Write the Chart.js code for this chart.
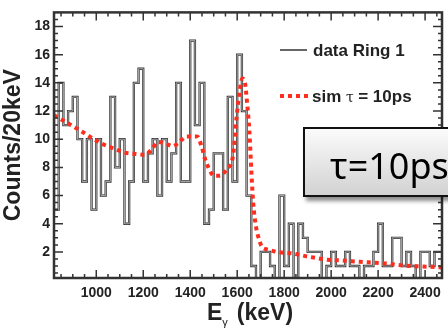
<!DOCTYPE html>
<html>
<head>
<meta charset="utf-8">
<script src="https://cdn.jsdelivr.net/npm/chart.js@4.4.0/dist/chart.umd.min.js"></script>
<style>
  html, body { margin: 0; padding: 0; background: #fff; overflow: hidden; }
  #wrap { position: relative; width: 448px; height: 329px; overflow: hidden; }
  #xtitle {
    position: absolute; left: 207px; top: 301px;
    font: bold 23px "Liberation Sans", Arial, sans-serif; line-height: 23px; color: #222;
    white-space: nowrap;
  }
  #xtitle sub { font-size: 11px; vertical-align: -6px; margin-right: 9px; font-weight: normal; }
  #taubox {
    position: absolute; left: 303px; top: 127px; width: 170px; height: 47px;
    border: 2px solid #111; padding: 19px 0 0 25px;
    background: linear-gradient(to bottom, #fbfbfb, #d2d2d2);
    box-shadow: 3px 4px 4px rgba(0,0,0,0.45);
    font: 36px "Noto Sans", sans-serif; line-height: 36px; color: #000; white-space: nowrap;
  }
</style>
</head>
<body>
<div id="wrap">
  <canvas id="miGrafico" width="448" height="329"></canvas>
  <div id="xtitle">E<sub>γ</sub>(keV)</div>
  <div id="taubox">τ=10ps</div>
</div>
<script>
// histogram bins (lower edge, keV) and counts per 20 keV
const energias = [
  820, 840, 860, 880, 900, 920, 940, 960, 980, 1000,
  1020, 1040, 1060, 1080, 1100, 1120, 1140, 1160, 1180, 1200,
  1220, 1240, 1260, 1280, 1300, 1320, 1340, 1360, 1380, 1400,
  1420, 1440, 1460, 1480, 1500, 1520, 1540, 1560, 1580, 1600,
  1620, 1640, 1660, 1680, 1700, 1720, 1740, 1760, 1780, 1800,
  1820, 1840, 1860, 1880, 1900, 1920, 1940, 1960, 1980, 2000,
  2020, 2040, 2060, 2080, 2100, 2120, 2140, 2160, 2180, 2200,
  2220, 2240, 2260, 2280, 2300, 2320, 2340, 2360, 2380, 2400,
  2420, 2440, 2460
];
const cuentas = [
  14, 5, 14, 11, 12, 13, 10, 7, 10, 5,
  10, 6, 7, 13, 8, 10, 4, 7, 14, 15,
  7, 9, 10, 6, 10, 7, 9, 14, 7, 7,
  17, 11, 14, 4, 5, 9, 9, 5, 13, 7,
  16, 12, 6, 1, 0, 2, 2, 1, 0, 6,
  1, 4, 0, 4, 3, 2, 2, 2, 0, 1,
  2, 1, 1, 2, 1, 1, 0, 1, 1, 2,
  4, 1, 1, 3, 3, 1, 2, 1, 0, 2,
  2, 1, 2
];
const anchoBin = 20;

// simulation tau = 10ps
const simE = [820, 888, 952, 1016, 1080, 1122, 1170, 1207, 1237, 1263, 1301, 1326, 1356, 1386, 1429, 1450,
  1463, 1480, 1501, 1526, 1556, 1582, 1597, 1611, 1622, 1633, 1642, 1652, 1660, 1668, 1680, 1693,
  1704, 1725, 1746, 1768, 1833, 1901, 1943, 1986, 2037, 2122, 2220, 2322, 2390, 2470];
const simCuentas = [11.7, 11.05, 10.4, 9.74, 9.3, 9.05, 8.95, 8.9, 9.3, 9.8, 9.65, 9.5, 9.85, 10.2, 10.2, 9.4,
  8.6, 7.9, 7.4, 7.4, 7.9, 8.8, 11.5, 13.5, 14.3, 14.0, 12.6, 10.5, 7.8, 5.5, 3.8, 2.9,
  2.4, 2.19, 2.1, 2.0, 1.9, 1.67, 1.55, 1.44, 1.4, 1.3, 1.2, 1.02, 0.97, 0.9];

const xTicks = [1000, 1200, 1400, 1600, 1800, 2000, 2200, 2400];
const yTicks = [2, 4, 6, 8, 10, 12, 14, 16, 18];
const etiquetas = ['data Ring 1', 'sim', 'τ', '= 10ps'];

const puntosHist = energias.map((e, i) => ({x: e, y: cuentas[i]}));
puntosHist.push({x: energias[energias.length - 1] + anchoBin, y: cuentas[cuentas.length - 1]});
const puntosSim = simE.map((e, i) => ({x: e, y: simCuentas[i]}));

const fuente = '"Liberation Sans", Arial, sans-serif';

// frame with inward ticks on all sides + legend inside the plot
const marco = {
  id: 'marco',
  afterDatasetsDraw(chart) {
    const {ctx, chartArea: a, scales: {x, y}} = chart;
    ctx.save();
    ctx.strokeStyle = '#333';
    ctx.lineWidth = 1.5;
    ctx.beginPath();
    for (let v = 850; v < x.max; v += 50) {
      const px = x.getPixelForValue(v);
      const l = xTicks.includes(v) ? 8 : 4;
      ctx.moveTo(px, a.bottom); ctx.lineTo(px, a.bottom - l);
      ctx.moveTo(px, a.top); ctx.lineTo(px, a.top + l);
    }
    for (let v = 0.5; v < y.max; v += 0.5) {
      const py = y.getPixelForValue(v);
      const l = yTicks.includes(v) ? 9 : 4;
      ctx.moveTo(a.left, py); ctx.lineTo(a.left + l, py);
      ctx.moveTo(a.right, py); ctx.lineTo(a.right - l, py);
    }
    ctx.stroke();
    ctx.lineWidth = 2.5;
    ctx.strokeRect(a.left, a.top, a.width, a.height);

    // legend
    const ds = chart.data.datasets;
    ctx.lineWidth = 1.5;
    ctx.strokeStyle = '#333';
    ctx.beginPath(); ctx.moveTo(280, 50); ctx.lineTo(307, 50); ctx.stroke();
    ctx.lineWidth = ds[0].borderWidth;
    ctx.strokeStyle = ds[0].borderColor;
    ctx.setLineDash(ds[0].borderDash);
    ctx.beginPath(); ctx.moveTo(280, 96); ctx.lineTo(308, 96); ctx.stroke();
    ctx.setLineDash([]);
    ctx.fillStyle = '#222';
    ctx.textBaseline = 'alphabetic';
    ctx.font = 'bold 17px ' + fuente;
    ctx.fillText(etiquetas[0], 313, 56);
    ctx.fillText(etiquetas[1], 312, 102);
    let xx = 312 + ctx.measureText(etiquetas[1] + ' ').width;
    ctx.font = '14px "DejaVu Serif", serif';
    ctx.fillText(etiquetas[2], xx, 102);
    xx += ctx.measureText(etiquetas[2] + ' ').width;
    ctx.font = 'bold 17px ' + fuente;
    ctx.fillText(etiquetas[3], xx, 102);
    ctx.restore();
  }
};

const ctx = document.getElementById('miGrafico').getContext('2d');
const miGrafico = new Chart(ctx, {
  type: 'line',
  data: {
    datasets: [
      {
        label: 'sim τ = 10ps',
        data: puntosSim,
        borderColor: 'rgb(255, 45, 30)',
        borderWidth: 4,
        borderDash: [4, 4],
        pointRadius: 0,
        cubicInterpolationMode: 'monotone',
        order: 0
      },
      {
        label: 'data Ring 1',
        data: puntosHist,
        stepped: 'after',
        borderColor: '#c8c8c8',
        borderWidth: 0.8,
        pointRadius: 0,
        order: 1
      },
      {
        label: 'data Ring 1 (borde)',
        data: puntosHist,
        stepped: 'after',
        borderColor: '#333',
        borderWidth: 2.3,
        pointRadius: 0,
        order: 2
      }
    ]
  },
  options: {
    responsive: false,
    animation: false,
    devicePixelRatio: 1,
    layout: { padding: { top: 10, right: 6, left: 0, bottom: 0 } },
    plugins: {
      legend: { display: false },
      tooltip: { enabled: false }
    },
    scales: {
      x: {
        type: 'linear',
        min: 820,
        max: 2472,
        grid: { display: false, drawTicks: false },
        border: { display: false },
        afterBuildTicks: (s) => { s.ticks = xTicks.map(v => ({value: v})); },
        afterFit: (s) => { s.height = 51; },
        ticks: {
          padding: 7,
          maxRotation: 0,
          color: '#222',
          callback: (v) => String(v),
          font: { family: fuente, size: 14, weight: 'bold' }
        }
      },
      y: {
        min: 0.15,
        max: 19,
        grid: { display: false, drawTicks: false },
        border: { display: false },
        afterBuildTicks: (s) => { s.ticks = yTicks.map(v => ({value: v})); },
        afterFit: (s) => { s.width = 54; },
        ticks: {
          padding: 4,
          color: '#222',
          callback: (v) => String(v),
          font: { family: fuente, size: 14, weight: 'bold' }
        },
        title: {
          display: true,
          text: 'Counts/20keV',
          color: '#222',
          padding: 0,
          font: { family: fuente, size: 23, weight: 'bold' }
        }
      }
    }
  },
  plugins: [marco]
});
</script>
</body>
</html>
